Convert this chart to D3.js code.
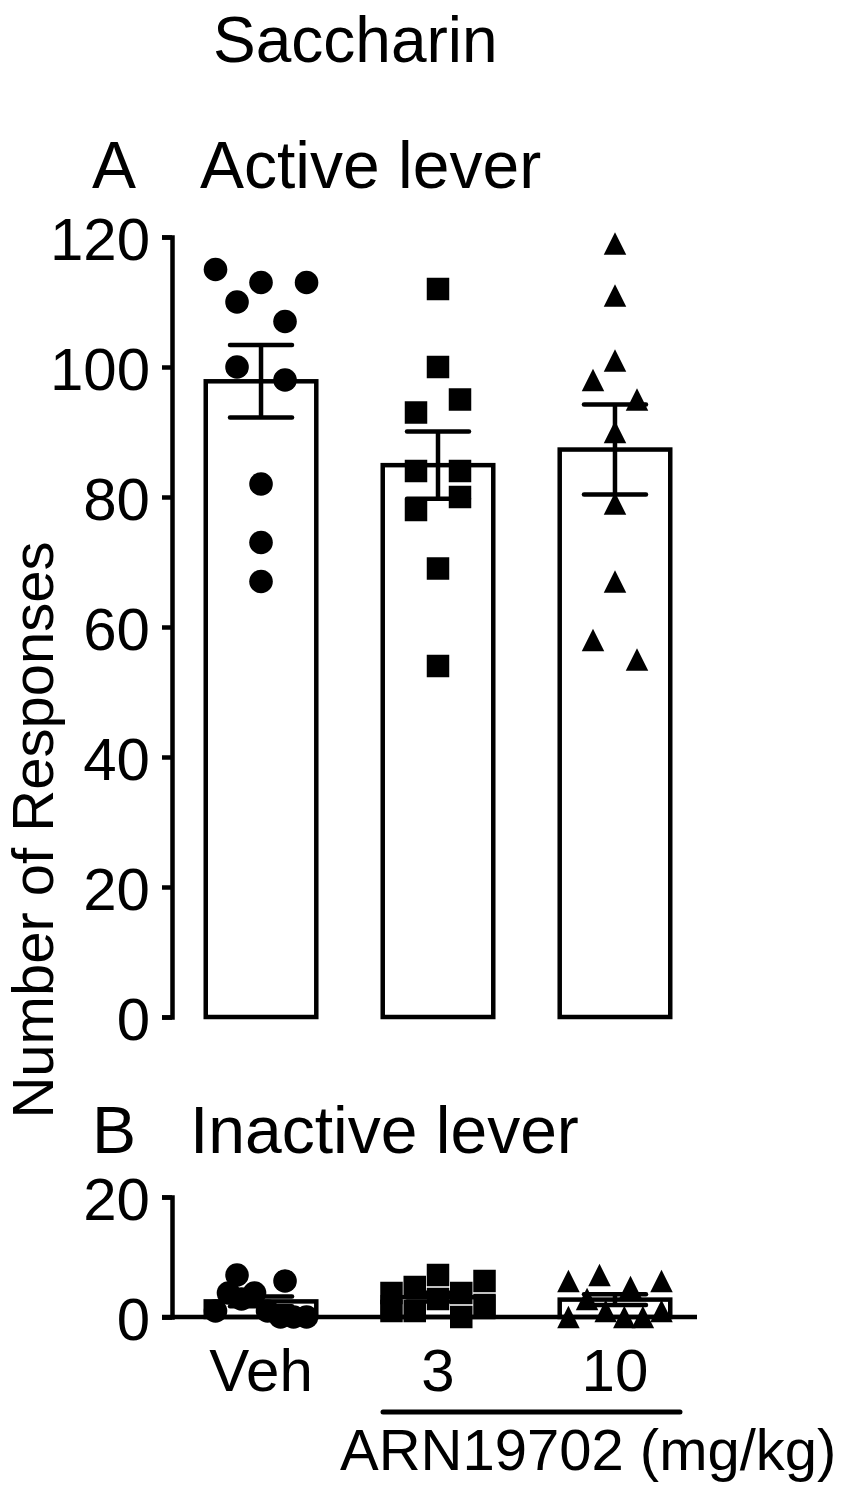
<!DOCTYPE html>
<html>
<head>
<meta charset="utf-8">
<script src="https://cdn.jsdelivr.net/npm/d3@7/dist/d3.min.js"></script>
<style>
  body { margin: 0; background: #fff; }
  svg text { font-family: Arial, "Liberation Sans", Helvetica, sans-serif; fill: #000; }
</style>
</head>
<body>
<script>
// ---------------- data ----------------
const groups = ["Veh", "3", "10"];
const activeVeh = [115, 113, 113, 110, 107, 100, 98, 82, 73, 67];
const active3   = [112, 100, 93, 95, 84, 84, 78, 80, 69, 54];
const active10  = [119, 111, 101, 98, 95, 90, 79, 67, 58, 55];
const inactiveVeh = [7, 1, 4, 3, 4, 1, 6, 0, 0, 0];
const inactive3   = [4, 5, 7, 4, 6, 1, 1, 3, 0, 2];
const inactive10  = [6, 7, 5, 6, 0, 3, 1, 0, 0, 1];
const activeTicks = [0, 20, 40, 60, 80, 100, 120];
const inactiveTicks = [0, 20];
const title = "Saccharin";
const panelA = ["A", "Active lever"];
const panelB = ["B", "Inactive lever"];
const yTitle = "Number of Responses";
const drugLabel = "ARN19702 (mg/kg)";

// ---------------- layout ----------------
const W = 862, H = 1500;
const SW = 4.5;
const svg = d3.select("body").append("svg").attr("width", W).attr("height", H);

const x = d3.scaleBand().domain(groups).range([172, 704]).paddingInner(0.35).paddingOuter(0.178);
const yA = d3.scaleLinear().domain([0, 120]).range([1017, 237]);
const yB = d3.scaleLinear().domain([0, 20]).range([1317, 1197]);

// custom isoceles triangle (as tall as wide)
const triangle = {
  draw(ctx, size) {
    const w = Math.sqrt(size);
    ctx.moveTo(0, -w / 2);
    ctx.lineTo(w / 2, w / 2);
    ctx.lineTo(-w / 2, w / 2);
    ctx.closePath();
  }
};
const markers = {
  "Veh": { type: d3.symbolCircle, size: Math.PI * 11.8 * 11.8, width: 24 },
  "3":   { type: d3.symbolSquare, size: 22.5 * 22.5, width: 22 },
  "10":  { type: triangle, size: 22.5 * 22.5, width: 22 }
};

function mean(a) { return d3.mean(a); }
function sem(a) { return d3.deviation(a) / Math.sqrt(a.length); }

// row-based scatter layout: overlapping values share a row and are spread symmetrically
function layout(values, y, mk, maxSpread) {
  const idx = values.map((v, i) => i).sort((a, b) => values[a] - values[b] || a - b);
  const off = new Array(values.length).fill(0);
  let i = 0;
  while (i < idx.length) {
    const start = y(values[idx[i]]);
    let j = i + 1;
    while (j < idx.length && Math.abs(y(values[idx[j]]) - start) < mk.width + 0.5) j++;
    const row = idx.slice(i, j).sort((a, b) => a - b);
    const n = row.length;
    const sp = n > 1 ? Math.min(2 * mk.width, maxSpread / (n - 1)) : 0;
    row.forEach((r, k) => { off[r] = (k - (n - 1) / 2) * sp; });
    i = j;
  }
  return off;
}

function drawPanel(data, y, capW) {
  const g = svg.append("g");
  const bw = x.bandwidth();
  groups.forEach((grp, gi) => {
    const vals = data[gi];
    const m = mean(vals), s = sem(vals);
    const cx = x(grp) + bw / 2;
    g.append("rect")
      .attr("x", x(grp) + SW / 2).attr("width", bw - SW)
      .attr("y", y(m)).attr("height", y(0) - y(m))
      .attr("fill", "#fff").attr("stroke", "#000").attr("stroke-width", SW);
    g.append("line").attr("x1", cx).attr("x2", cx).attr("y1", y(m - s)).attr("y2", y(m + s))
      .attr("stroke", "#000").attr("stroke-width", SW);
    [m - s, m + s].forEach(v => {
      g.append("line").attr("x1", cx - capW / 2).attr("x2", cx + capW / 2)
        .attr("y1", y(v)).attr("y2", y(v))
        .attr("stroke", "#000").attr("stroke-width", SW).attr("stroke-linecap", "round");
    });
    const mk = markers[grp];
    const off = layout(vals, y, mk, bw - mk.width);
    g.selectAll(null).data(vals).enter().append("path")
      .attr("d", d3.symbol().type(mk.type).size(mk.size))
      .attr("transform", (d, i) => `translate(${cx + off[i]},${y(d)})`)
      .attr("fill", "#000");
  });
}

function styleAxis(g, fs, dy) {
  g.selectAll("path, line").attr("stroke", "#000").attr("stroke-width", SW);
  g.select(".domain").attr("fill", "none");
  g.selectAll("text").attr("font-size", fs).attr("fill", "#000")
    .style("font-family", 'Arial, "Liberation Sans", sans-serif');
  if (dy) g.selectAll("text").attr("dy", dy);
}

// ---------- panel A ----------
drawPanel([activeVeh, active3, active10], yA, 62);
const axA = svg.append("g").attr("transform", "translate(172,0)")
  .call(d3.axisLeft(yA).tickValues(activeTicks).tickSize(10).tickSizeOuter(10).tickPadding(12).tickFormat(d3.format("d")));
styleAxis(axA, 60, "0.38em");

// ---------- panel B ----------
drawPanel([inactiveVeh, inactive3, inactive10], yB, 62);
const axB = svg.append("g").attr("transform", "translate(172,0)")
  .call(d3.axisLeft(yB).tickValues(inactiveTicks).tickSize(10).tickSizeOuter(10).tickPadding(12).tickFormat(d3.format("d")));
styleAxis(axB, 60, "0.38em");

const axX = svg.append("g").attr("transform", `translate(0,${yB(0)})`)
  .call(d3.axisBottom(x).tickSize(0).tickSizeOuter(0).tickPadding(31));
styleAxis(axX, 60);
axX.select(".domain").attr("d", "M162,0H697");

// drug bracket
const x3 = x("3") + x.bandwidth() / 2, x10 = x("10") + x.bandwidth() / 2;
svg.append("line").attr("x1", x3 - 55).attr("x2", x10 + 65).attr("y1", 1412).attr("y2", 1412)
  .attr("stroke", "#000").attr("stroke-width", 5).attr("stroke-linecap", "round");
svg.append("text").attr("x", 340).attr("y", 1470)
  .attr("font-size", 58).text(drugLabel);

// titles
svg.append("text").attr("x", 213).attr("y", 62).attr("font-size", 64).text(title);
svg.append("text").attr("x", 92).attr("y", 188).attr("font-size", 66).text(panelA[0]);
svg.append("text").attr("x", 200).attr("y", 188).attr("font-size", 66).text(panelA[1]);
svg.append("text").attr("x", 92).attr("y", 1153).attr("font-size", 66).text(panelB[0]);
svg.append("text").attr("x", 190).attr("y", 1153).attr("font-size", 66).text(panelB[1]);
svg.append("text").attr("transform", "translate(53,830) rotate(-90)").attr("text-anchor", "middle")
  .attr("font-size", 58).text(yTitle);
</script>
</body>
</html>
